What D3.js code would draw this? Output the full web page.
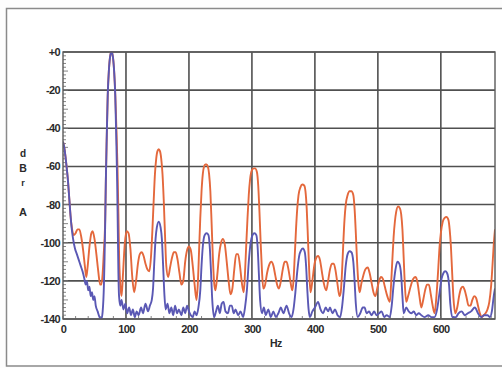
<!DOCTYPE html>
<html><head><meta charset="utf-8">
<script src="https://cdn.jsdelivr.net/npm/d3@7/dist/d3.min.js"></script>
<style>
html,body{margin:0;padding:0;background:#fdfdfd;}
svg{display:block;}
text{font-family:"Liberation Sans",Arial,sans-serif;}
</style></head>
<body>
<svg id="c" width="502" height="368"></svg>
<script>
// ---- data ----
const yTickValues = [0,-20,-40,-60,-80,-100,-120,-140];
const yTickLabels = ["+0","-20","-40","-60","-80","-100","-120","-140"];
const xTickValues = [0,100,200,300,400,500,600];
const xTickLabels = ["0","100","200","300","400","500","600"];
const xTitle = "Hz";
const yTitleLetters = ["d","B","r","A"];

// blue spectrum [Hz, dB]
const blueSeries = [[0,-47],[2,-50],[4,-55],[6,-61],[8,-68],[10,-77],[12,-86],[14,-93],[16,-98],[19,-103],[22,-106],[25,-109],[28,-112],[31,-115],[34,-119],[36,-122],[38,-120],[40,-125],[42,-123],[44,-128],[46,-126],[48,-130],[50,-128],[52,-133],[55,-136],[58,-139],[61,-140],[63,-136],[65,-122],[66,-108],[67,-90],[68,-68],[69.5,-44],[71,-23],[73,-9],[75,-2],[77,0],[79,-2],[81,-9],[83,-23],[84.5,-44],[86,-68],[87,-92],[88,-116],[89,-128],[91,-133],[93,-130],[96,-135],[99,-132],[102,-137],[105,-134],[108,-138],[111,-135],[114,-139],[117,-136],[120,-138],[124,-134],[127,-137],[131,-132],[135,-136],[138,-133],[141,-130],[143,-124],[145,-110],[147,-98],[149,-92],[152,-89],[155,-92],[157,-98],[159,-112],[161,-127],[163,-135],[166,-132],[169,-137],[172,-134],[175,-138],[178,-133],[181,-137],[184,-135],[188,-138],[191,-134],[194,-137],[197,-133],[200,-136],[203,-138],[206,-139],[209,-136],[212,-138],[215,-134],[218,-125],[220,-112],[222,-102],[225,-96],[228,-95],[231,-96],[233,-102],[235,-115],[237,-130],[240,-139],[243,-136],[246,-133],[249,-137],[252,-132],[255,-131],[258,-136],[262,-137],[265,-133],[268,-133],[271,-137],[274,-135],[278,-138],[282,-136],[286,-139],[289,-134],[292,-125],[295,-110],[298,-100],[301,-96],[304,-95],[307,-96],[309,-102],[311,-116],[313,-130],[316,-137],[319,-134],[322,-138],[326,-135],[330,-139],[334,-136],[338,-139],[342,-137],[346,-134],[350,-137],[355,-133],[359,-137],[363,-139],[366,-135],[369,-126],[372,-115],[375,-107],[378,-104],[381,-103],[384,-105],[386,-112],[388,-125],[390,-135],[392,-139],[396,-136],[400,-134],[405,-131],[409,-135],[413,-137],[417,-134],[421,-136],[424,-134],[428,-137],[432,-135],[436,-138],[440,-139],[443,-134],[446,-124],[449,-112],[452,-106],[455,-104.5],[458,-105],[461,-110],[463,-120],[465,-132],[468,-139],[472,-137],[476,-134],[479,-134],[482,-137],[486,-136],[490,-138],[494,-136],[498,-138],[502,-137],[506,-136],[510,-139],[514,-138],[519,-139],[522,-133],[525,-122],[528,-114],[531,-110],[534,-111],[537,-117],[539,-128],[541,-137],[545,-134],[549,-136],[553,-137],[557,-136],[561,-138],[565,-137],[569,-138],[574,-139],[580,-138],[585,-139],[590,-139],[594,-135],[598,-126],[601,-119],[604,-116],[607,-115],[610,-116],[613,-122],[615,-132],[618,-139],[624,-139],[628,-137],[633,-136],[638,-138],[643,-137],[648,-136],[654,-134],[659,-137],[664,-139],[669,-138],[674,-138],[678,-139],[681,-136],[684,-128],[686,-124]];

// orange spectrum [Hz, dB]
const orangeSeries = [[0,-47],[2,-50],[4,-55],[6,-61],[8,-68],[10,-77],[12,-86],[14,-92],[17,-96],[20,-95],[23,-93],[26,-93],[29,-97],[32,-104],[35,-113],[37,-118],[39,-113],[42,-102],[45,-95],[47,-94],[50,-98],[53,-106],[56,-115],[59,-122],[61,-122],[63,-116],[65,-104],[66,-98],[67,-88],[68,-68],[69.5,-44],[71,-23],[73,-9],[75,-2],[77,0],[79,-2],[81,-9],[83,-22],[85,-42],[86.5,-60],[88,-85],[89,-105],[91,-122],[93,-128],[95,-118],[98,-101],[101,-94],[104,-95],[107,-103],[110,-118],[113,-126],[116,-120],[119,-111],[122,-106],[125,-105],[128,-107],[131,-111],[134,-114],[137,-115],[140,-106],[142,-93],[144,-78],[146,-64],[148,-56],[150,-52],[152,-51],[154,-52],[156,-56],[158,-64],[160,-78],[162,-96],[164,-112],[167,-118],[170,-113],[173,-108],[176,-105],[179,-105],[182,-109],[185,-116],[188,-122],[191,-120],[194,-110],[197,-104],[200,-102],[203,-104],[206,-112],[209,-122],[212,-130],[214,-122],[216,-105],[218,-87],[220,-73],[222,-64],[224,-60],[226,-59],[228,-59],[230,-60],[232,-64],[234,-73],[236,-90],[238,-108],[240,-121],[242,-125],[245,-117],[248,-106],[251,-100],[254,-98],[257,-101],[260,-110],[263,-120],[266,-127],[269,-124],[272,-114],[275,-106],[278,-106],[281,-112],[284,-121],[287,-126],[289,-116],[291,-101],[293,-87],[295,-75],[297,-67],[300,-62],[303,-61],[305,-61],[308,-63],[310,-70],[312,-84],[314,-101],[316,-115],[318,-124],[321,-122],[324,-116],[327,-112],[331,-110],[334,-112],[337,-117],[340,-122],[343,-124],[346,-120],[349,-114],[352,-110],[355,-110],[358,-114],[361,-120],[364,-125],[366,-120],[368,-107],[370,-93],[372,-82],[374,-75],[377,-71],[380,-69.5],[383,-70],[385,-73],[387,-82],[389,-98],[391,-115],[393,-126],[396,-120],[399,-112],[402,-108],[405,-107],[408,-109],[411,-115],[414,-121],[418,-125],[421,-120],[424,-114],[427,-111],[430,-111],[433,-115],[436,-122],[439,-128],[441,-126],[443,-116],[445,-101],[447,-88],[449,-80],[452,-75],[455,-73],[458,-73],[461,-75],[463,-82],[465,-95],[467,-110],[469,-121],[471,-126],[474,-121],[477,-117],[480,-114],[484,-113],[487,-116],[490,-121],[493,-126],[496,-128],[499,-124],[502,-120],[505,-118],[508,-119],[511,-123],[515,-128],[519,-131],[521,-122],[523,-109],[525,-97],[527,-89],[529,-84],[532,-81],[535,-82],[537,-85],[539,-93],[541,-108],[543,-123],[545,-131],[548,-128],[552,-123],[556,-119],[560,-118],[563,-121],[566,-128],[569,-134],[572,-130],[575,-125],[578,-122],[581,-122],[584,-127],[587,-133],[590,-137],[593,-128],[596,-113],[598,-102],[600,-95],[603,-89],[606,-87],[609,-86.5],[612,-88],[614,-93],[616,-102],[618,-116],[620,-129],[623,-137],[626,-134],[629,-128],[632,-124],[635,-123],[638,-125],[641,-129],[644,-133],[647,-133],[650,-130],[653,-128],[656,-129],[659,-133],[662,-137],[665,-139],[668,-138],[671,-137],[674,-135],[677,-131],[680,-122],[682,-112],[684,-101],[686,-93]];

const xDomain = [0, 686];
const yDomain = [-140, 0];

// ---- drawing ----
const svg = d3.select("#c");
const L = 63, R = 495, T = 52, B = 319;
const x = d3.scaleLinear().domain(xDomain).range([L, R]);
const y = d3.scaleLinear().domain(yDomain).range([B, T]);

// outer frame
svg.append("rect").attr("x",6.5).attr("y",8.5).attr("width",500).attr("height",357.5)
  .attr("fill","#ffffff").attr("stroke","#8a8a8a").attr("stroke-width",1.5);

// plot background
svg.append("rect").attr("x",L).attr("y",T).attr("width",R-L).attr("height",B-T).attr("fill","#ffffff");

const gridColor = "#505050";
// horizontal grid
svg.append("g").selectAll("line").data(yTickValues).join("line")
  .attr("x1",L).attr("x2",R).attr("y1",d=>y(d)).attr("y2",d=>y(d))
  .attr("stroke",gridColor).attr("stroke-width",1.6);
// vertical grid
svg.append("g").selectAll("line").data(xTickValues.filter(d=>d>0)).join("line")
  .attr("y1",T).attr("y2",B).attr("x1",d=>x(d)).attr("x2",d=>x(d))
  .attr("stroke",gridColor).attr("stroke-width",1.6);

// minor ticks (inward)
const yMinor = d3.range(-140, 0.1, 2);
svg.append("g").selectAll("line").data(yMinor).join("line")
  .attr("x1",L).attr("x2",d=> d%10===0 ? L+5 : L+3).attr("y1",d=>y(d)).attr("y2",d=>y(d))
  .attr("stroke","#777").attr("stroke-width",0.9);
const xMinor = d3.range(0, 686, 20);
svg.append("g").selectAll("line").data(xMinor).join("line")
  .attr("y1",B).attr("y2",B-3).attr("x1",d=>x(d)).attr("x2",d=>x(d))
  .attr("stroke","#777").attr("stroke-width",0.9);

// clip
svg.append("clipPath").attr("id","clip").append("rect")
  .attr("x",L).attr("y",T-2).attr("width",R-L).attr("height",B-T+2);

const line = d3.line().x(d=>x(d[0])).y(d=>y(d[1])).curve(d3.curveMonotoneX);
const plot = svg.append("g").attr("clip-path","url(#clip)");
plot.append("path").datum(orangeSeries).attr("d",line)
  .attr("fill","none").attr("stroke","#e4683c").attr("stroke-width",1.9).attr("stroke-linejoin","round");
plot.append("path").datum(blueSeries).attr("d",line)
  .attr("fill","none").attr("stroke","#5a58b4").attr("stroke-width",1.9).attr("stroke-linejoin","round");

// plot frame
svg.append("rect").attr("x",L).attr("y",T).attr("width",R-L).attr("height",B-T)
  .attr("fill","none").attr("stroke","#5a5a5a").attr("stroke-width",1.4);

// axes (labels)
const yAxis = d3.axisLeft(y).tickValues(yTickValues).tickSize(0).tickPadding(3)
  .tickFormat((d,i)=>yTickLabels[i]);
const gy = svg.append("g").attr("transform",`translate(${L},0)`).call(yAxis);
gy.select(".domain").remove();
gy.selectAll("text").attr("font-size",11).attr("font-weight","bold").attr("fill","#2a2a2a")
  .attr("font-family","'Liberation Sans',Arial,sans-serif").attr("letter-spacing","-0.6");

const xAxis = d3.axisBottom(x).tickValues(xTickValues).tickSize(0).tickPadding(6)
  .tickFormat((d,i)=>xTickLabels[i]);
const gx = svg.append("g").attr("transform",`translate(0,${B})`).call(xAxis);
gx.select(".domain").remove();
gx.selectAll("text").attr("font-size",11).attr("font-weight","bold").attr("fill","#2a2a2a")
  .attr("font-family","'Liberation Sans',Arial,sans-serif").attr("letter-spacing","-0.6");

// titles
svg.append("text").attr("x",x(338)).attr("y",347).attr("text-anchor","middle")
  .attr("font-size",10.5).attr("font-weight","bold").attr("fill","#2a2a2a").attr("letter-spacing","-0.5").text(xTitle);
const yTitleY = [157, 172, 186, 216];
const yTitleSize = [10, 10.5, 9, 11];
svg.append("g").selectAll("text").data(yTitleLetters).join("text")
  .attr("x",23).attr("y",(d,i)=>yTitleY[i]).attr("text-anchor","middle")
  .attr("font-size",(d,i)=>yTitleSize[i]).attr("font-weight","bold").attr("fill","#2a2a2a").text(d=>d);
</script>
</body></html>
